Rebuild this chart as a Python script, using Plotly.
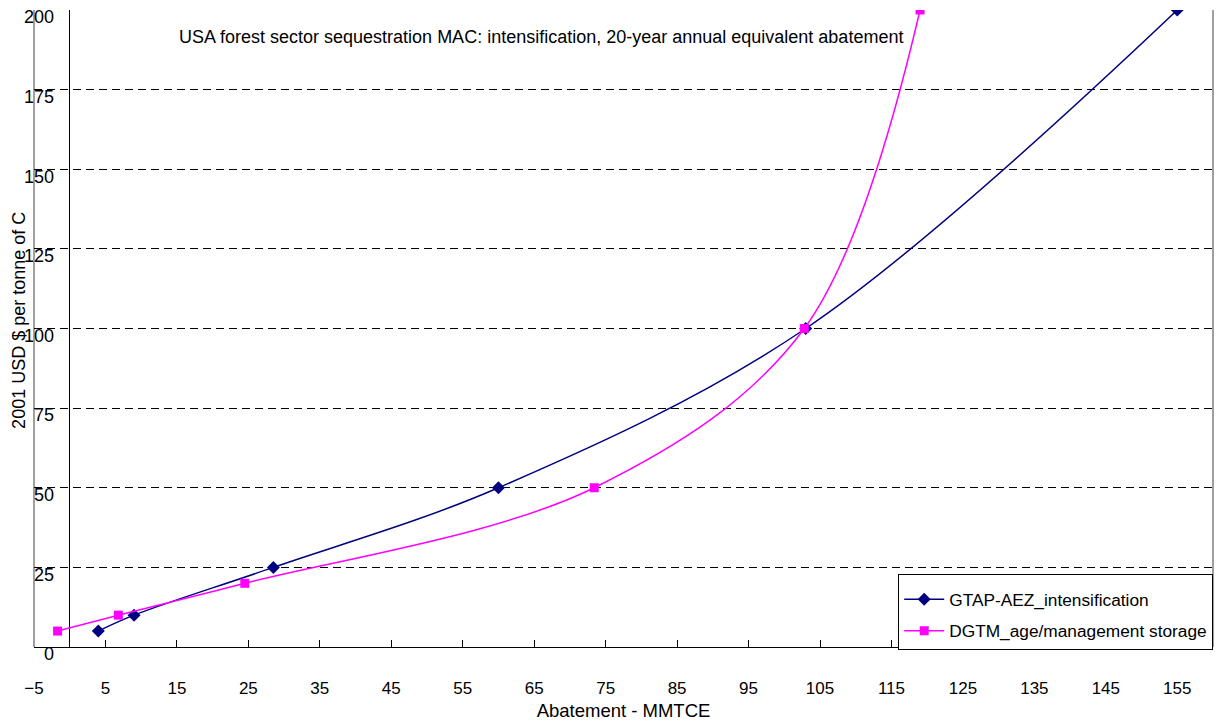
import plotly.graph_objects as go

# Data
gtap_x = [4.0, 9.0, 28.5, 60.0, 103.0, 155.0]
gtap_y = [5, 10, 25, 50, 100, 200]
dgtm_x = [-1.7, 6.8, 24.5, 73.4, 102.8, 119.0]
dgtm_y = [5, 10, 20, 50, 100, 200]

x_ticks = list(range(-5, 160, 10))
y_ticks = list(range(0, 201, 25))

FONT = "Liberation Sans, Arial, sans-serif"

fig = go.Figure()
fig.add_trace(go.Scatter(
    x=gtap_x, y=gtap_y, mode="lines+markers", name="GTAP-AEZ_intensification",
    line=dict(color="#000080", width=1.5, shape="spline", smoothing=1.0),
    marker=dict(symbol="diamond", size=10, color="#000080"),
    legendgroup="a",
))
fig.add_trace(go.Scatter(
    x=dgtm_x, y=dgtm_y, mode="lines+markers", name="DGTM_age/management storage",
    line=dict(color="#FF00FF", width=1.5, shape="spline", smoothing=1.0),
    marker=dict(symbol="square", size=9, color="#FF00FF"),
    legendgroup="b",
))

fig.update_layout(
    width=1220, height=725,
    margin=dict(l=34, r=7, t=10, b=78, autoexpand=False),
    paper_bgcolor="white", plot_bgcolor="white",
    font=dict(family=FONT, size=17, color="black"),
    showlegend=True,
    legend=dict(
        x=0.733, y=0.1146, xanchor="left", yanchor="top",
        bordercolor="black", borderwidth=1, bgcolor="white",
        font=dict(family=FONT, size=17.3, color="black"),
        tracegroupgap=6, traceorder="grouped", itemwidth=40,
        title=dict(text=" ", font=dict(size=5)),
    ),
    xaxis=dict(
        range=[-5, 160], tickmode="array", tickvals=x_ticks,
        ticks="inside", ticklen=7, tickcolor="black",
        showline=True, linecolor="black", linewidth=1,
        showgrid=False, zeroline=True, zerolinecolor="black", zerolinewidth=1,
        tickfont=dict(family=FONT, size=17, color="black"),
        ticklabelstandoff=26,
        title=dict(text="Abatement - MMTCE", font=dict(family=FONT, size=18.5, color="black"), standoff=6),
        automargin=False,
    ),
    yaxis=dict(
        range=[0, 200], tickmode="array", tickvals=y_ticks,
        anchor="free", position=0.017, ticks="",
        showline=False, zeroline=False,
        showgrid=True, gridcolor="black", gridwidth=1, griddash="8px,5px",
        tickfont=dict(family=FONT, size=18, color="black"),
        ticklabelshift=7,
        automargin=False,
    ),
    shapes=[
        dict(type="line", xref="paper", yref="paper", x0=0, x1=0, y0=0, y1=1,
             line=dict(color="#808080", width=1.5), layer="below"),
        dict(type="line", xref="paper", yref="paper", x0=1, x1=1, y0=0, y1=1,
             line=dict(color="#808080", width=1.5), layer="below"),
    ],
    annotations=[
        dict(text="USA forest sector sequestration MAC: intensification, 20-year annual equivalent abatement",
             xref="paper", yref="paper", x=0.43, y=0.9576, xanchor="center", yanchor="middle",
             showarrow=False, font=dict(family=FONT, size=18, color="black")),
        dict(text="2001 USD $ per tonne of C", textangle=-90,
             xref="paper", yref="paper", x=-0.0127, y=0.512, xanchor="center", yanchor="middle",
             showarrow=False, font=dict(family=FONT, size=18, color="black")),
    ],
)

fig.write_html("out.html")
